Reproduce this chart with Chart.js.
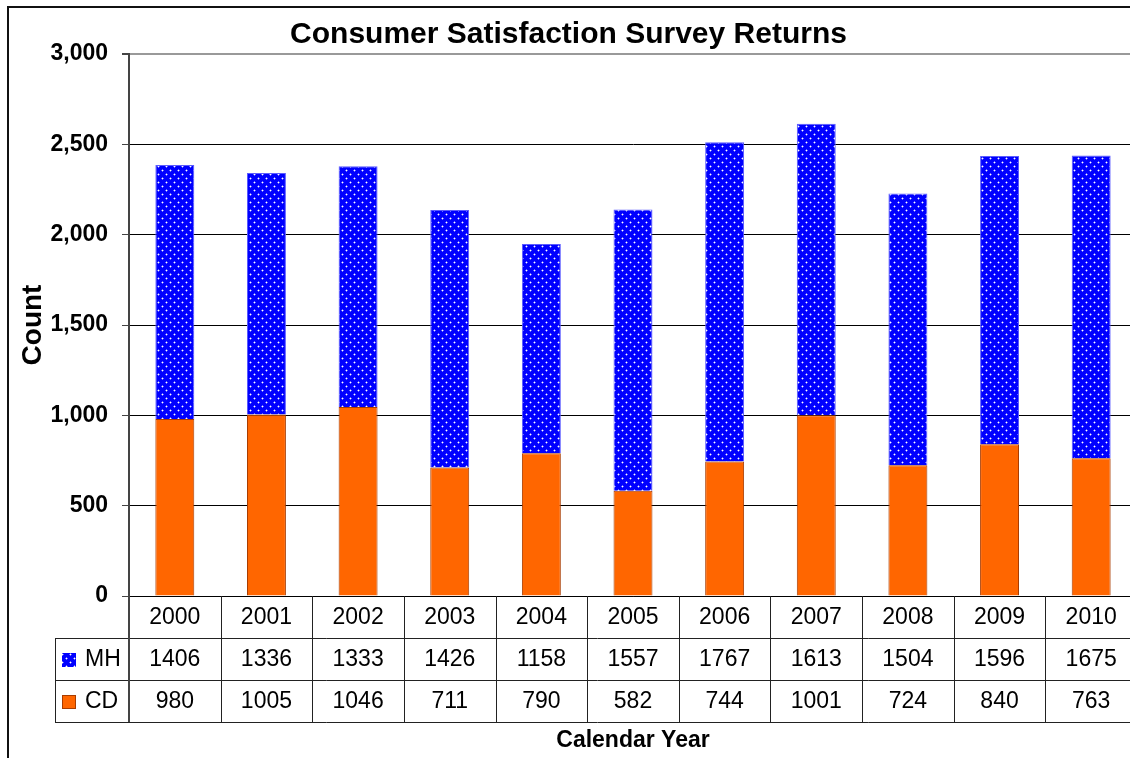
<!DOCTYPE html>
<html>
<head>
<meta charset="utf-8">
<title>Consumer Satisfaction Survey Returns</title>
<script src="https://cdn.jsdelivr.net/npm/chart.js@4/dist/chart.umd.min.js"></script>
<style>
	html, body { margin: 0; padding: 0; background: #fff; overflow: hidden; }
	#wrap { width: 1140px; height: 758px; }
</style>
</head>
<body>
<div id="wrap"><canvas id="chart" width="1140" height="758"></canvas></div>
<script>
const years = ['2000', '2001', '2002', '2003', '2004', '2005', '2006', '2007', '2008', '2009', '2010'];
const mhCounts = [1406, 1336, 1333, 1426, 1158, 1557, 1767, 1613, 1504, 1596, 1675];
const cdCounts = [980, 1005, 1046, 711, 790, 582, 744, 1001, 724, 840, 763];
const yTicks = [0, 500, 1000, 1500, 2000, 2500, 3000];

const FONT = "Arial, 'Liberation Sans', sans-serif";
const ORANGE = '#ff6600';

// blue fill with small white dots
function dotPattern() {
	const c = document.createElement('canvas');
	c.width = 8;
	c.height = 8;
	const g = c.getContext('2d');
	g.fillStyle = '#0000ff';
	g.fillRect(0, 0, 8, 8);
	const dot = (x, y) => {
		g.fillStyle = 'rgba(255,255,255,0.4)';
		g.fillRect(x - 1, y, 3, 1);
		g.fillRect(x, y - 1, 1, 3);
		g.fillStyle = '#ffffff';
		g.fillRect(x, y, 1, 1);
	};
	dot(2, 2);
	dot(6, 6);
	return g.createPattern(c, 'repeat');
}

const ctx0 = document.getElementById('chart').getContext('2d');
const blueFill = dotPattern();

// data table under the plot + outer frame
const tablePlugin = {
	id: 'dataTable',
	beforeDraw(chart) {
		const { ctx, width, height } = chart;
		ctx.save();
		ctx.fillStyle = '#fff';
		ctx.fillRect(0, 0, width, height);
		ctx.restore();
	},
	afterDraw(chart) {
		const { ctx, chartArea } = chart;
		const x = chart.scales.x;
		const n = years.length;
		const w = (chartArea.right - chartArea.left) / n;
		const top = chartArea.bottom;
		const rowH = 42;
		const legendLeft = 55;

		ctx.save();
		// frame
		ctx.strokeStyle = '#111';
		ctx.lineWidth = 2;
		ctx.beginPath();
		ctx.moveTo(8, chart.height);
		ctx.lineTo(8, 7);
		ctx.lineTo(chart.width, 7);
		ctx.stroke();

		// grid of table
		ctx.strokeStyle = '#222';
		ctx.lineWidth = 1;
		ctx.beginPath();
		for (let i = 1; i < n; i++) {
			const bx = Math.round(chartArea.left + i * w) + 0.5;
			ctx.moveTo(bx, top);
			ctx.lineTo(bx, top + rowH * 3);
		}
		ctx.moveTo(legendLeft + 0.5, top + rowH);
		ctx.lineTo(legendLeft + 0.5, top + rowH * 3);
		for (let r = 1; r <= 3; r++) {
			ctx.moveTo(legendLeft, top + rowH * r + 0.5);
			ctx.lineTo(chart.width, top + rowH * r + 0.5);
		}
		ctx.stroke();

		ctx.strokeStyle = '#444';
		ctx.lineWidth = 2;
		ctx.beginPath();
		ctx.moveTo(chartArea.left, top);
		ctx.lineTo(chartArea.left, top + rowH * 3);
		ctx.stroke();

		// cell texts
		ctx.fillStyle = '#000';
		ctx.font = `23px ${FONT}`;
		ctx.textAlign = 'center';
		ctx.textBaseline = 'middle';
		years.forEach((yr, i) => {
			const cx = x.getPixelForValue(i);
			ctx.fillText(yr, cx, top + rowH * 0.5 + 1);
			ctx.fillText(String(mhCounts[i]), cx, top + rowH * 1.5 + 1);
			ctx.fillText(String(cdCounts[i]), cx, top + rowH * 2.5 + 1);
		});

		// legend keys
		ctx.fillStyle = blueFill;
		ctx.fillRect(62, top + rowH * 1.5 - 6, 14, 14);
		ctx.fillStyle = ORANGE;
		ctx.fillRect(62, top + rowH * 2.5 - 6, 14, 14);
		ctx.strokeStyle = '#a83c00';
		ctx.lineWidth = 1;
		ctx.strokeRect(62.5, top + rowH * 2.5 - 5.5, 13, 13);

		ctx.fillStyle = '#000';
		ctx.textAlign = 'left';
		ctx.fillText('MH', 85, top + rowH * 1.5 + 1);
		ctx.fillText('CD', 85, top + rowH * 2.5 + 1);
		ctx.restore();
	},
};

new Chart(ctx0, {
	type: 'bar',
	data: {
		labels: years,
		datasets: [
			{
				label: 'CD',
				data: cdCounts,
				backgroundColor: ORANGE,
				borderColor: '#a83c00',
				borderWidth: 1,
			},
			{
				label: 'MH',
				data: mhCounts,
				backgroundColor: blueFill,
				borderColor: '#5a5aff',
				borderWidth: 1,
			},
		],
	},
	options: {
		responsive: false,
		animation: false,
		layout: { padding: { right: 3 } },
		datasets: { bar: { categoryPercentage: 1, barPercentage: 0.425 } },
		plugins: {
			legend: { display: false },
			tooltip: { enabled: false },
			title: {
				display: true,
				text: 'Consumer Satisfaction Survey Returns',
				color: '#000',
				font: { family: FONT, size: 30, weight: 'bold', lineHeight: 1 },
				padding: { top: 20, bottom: 4 },
			},
		},
		scales: {
			x: {
				stacked: true,
				ticks: { display: false },
				grid: { display: false },
				border: { display: true, color: '#000', width: 1 },
				title: {
					display: true,
					text: 'Calendar Year',
					color: '#000',
					font: { family: FONT, size: 23, weight: 'bold' },
					padding: { top: 0, bottom: 4 },
				},
				afterFit: (s) => { s.height = 162; },
			},
			y: {
				stacked: true,
				min: yTicks[0],
				max: yTicks[yTicks.length - 1],
				afterBuildTicks: (s) => { s.ticks = yTicks.map((v) => ({ value: v })); },
				ticks: {
					color: '#000',
					padding: 14,
					font: { family: FONT, size: 23, weight: 'bold' },
					callback: (v) => Number(v).toLocaleString('en-US'),
				},
				grid: {
					color: (c) => (c.tick && c.tick.value === 3000 ? '#999' : '#000'),
					lineWidth: (c) => (c.tick && c.tick.value === 3000 ? 2 : 1),
					tickLength: 7,
					tickColor: '#444',
				},
				border: { display: true, color: '#444', width: 2 },
				title: {
					display: true,
					text: 'Count',
					color: '#000',
					font: { family: FONT, size: 28, weight: 'bold' },
					padding: { top: 16, bottom: 0 },
				},
				afterFit: (s) => { s.width = 129; },
			},
		},
	},
	plugins: [tablePlugin],
});
</script>
</body>
</html>
